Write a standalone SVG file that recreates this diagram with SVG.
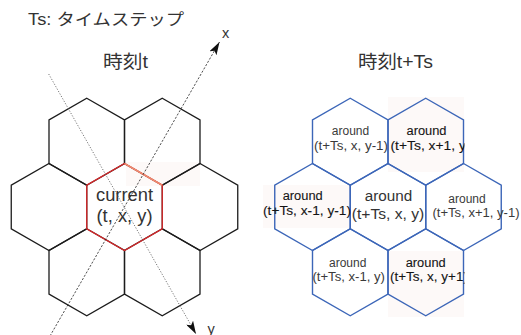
<svg xmlns="http://www.w3.org/2000/svg" width="521" height="335" viewBox="0 0 521 335">
<style>
  text { font-family: "Liberation Sans", "Noto Sans CJK JP", sans-serif; fill: #333; }
  .hex { fill: none; stroke-width: 1.3; stroke-linejoin: miter; }
  .blk { stroke: #1c1c1c; }
  .red { stroke: #d8282a; }
  .blu { stroke: #3c66b8; stroke-width: 1.4; }
  .lbl { font-size: 12px; text-anchor: middle; fill: #3a3a3a; }
  .hl { font-size: 12.5px; text-anchor: middle; fill: #151515; stroke: #151515; stroke-width: 0.1; }
  .faint { fill: #fdf9f8; }
</style>
<defs>
  <path id="h" d="M0,-43.5 L37.75,-21.75 L37.75,21.75 L0,43.5 L-37.75,21.75 L-37.75,-21.75 Z"/>
  <marker id="arr" viewBox="0 0 13 8" refX="13" refY="4" markerWidth="13" markerHeight="8" orient="auto" markerUnits="userSpaceOnUse">
    <path d="M0,0 L13,4 L0,8 L3,4 Z" fill="#111"/>
  </marker>
  <clipPath id="c1"><rect x="386" y="95" width="78.5" height="80"/></clipPath>
  <clipPath id="c2"><rect x="386" y="250" width="78.5" height="70"/></clipPath>
</defs>

<text x="28" y="25" font-size="16" textLength="156" lengthAdjust="spacingAndGlyphs">Ts: タイムステップ</text>
<text x="125.5" y="68" font-size="18" text-anchor="middle" textLength="45" lengthAdjust="spacingAndGlyphs">時刻t</text>
<text x="395.5" y="67.5" font-size="18" text-anchor="middle" textLength="75" lengthAdjust="spacingAndGlyphs">時刻t+Ts</text>

<!-- left grid at time t -->
<g id="t-grid">
  <rect class="faint" x="126" y="162" width="74" height="24"/>
  <g id="t-x-y-1"><use href="#h" class="hex blk" x="86.75" y="141.75"/></g>
  <g id="t-x1-y"><use href="#h" class="hex blk" x="162.25" y="141.75"/></g>
  <g id="t-x-1-y-1"><use href="#h" class="hex blk" x="49" y="207"/></g>
  <g id="t-x1-y-1"><use href="#h" class="hex blk" x="200" y="207"/></g>
  <g id="t-x-1-y"><use href="#h" class="hex blk" x="86.75" y="272.25"/></g>
  <g id="t-x-y1"><use href="#h" class="hex blk" x="162.25" y="272.25"/></g>
  <g id="current">
    <use href="#h" class="hex red" x="124.5" y="207"/>
    <line x1="124.5" y1="163.5" x2="162.25" y2="185.25" stroke="#f08a70" stroke-width="1.6"/>
    <text x="124.5" y="200.7" font-size="17.5" text-anchor="middle" textLength="57" lengthAdjust="spacingAndGlyphs">current</text>
    <text x="124.5" y="221.5" font-size="17.5" text-anchor="middle" textLength="56" lengthAdjust="spacingAndGlyphs">(t, x, y)</text>
  </g>
</g>

<!-- axes -->
<g id="connectors">
  <line x1="48.7" y1="74" x2="196" y2="334" stroke="#555" stroke-width="0.8" stroke-dasharray="1.2 1.6" marker-end="url(#arr)"/>
  <line x1="50" y1="336" x2="219.5" y2="42" stroke="#222" stroke-width="0.8" stroke-dasharray="2.2 1.6" marker-end="url(#arr)"/>
</g>
<text x="222" y="37.5" font-size="14.5">x</text>
<text x="207.5" y="333.5" font-size="14.5">y</text>

<!-- right grid at time t+Ts -->
<g id="tTs-grid">
  <rect class="faint" x="388" y="97" width="76" height="75"/>
  <rect class="faint" x="263" y="185" width="88" height="43"/>
  <rect class="faint" x="388" y="251" width="76" height="66"/>
  <g id="a-x-y-1">
    <use href="#h" class="hex blu" x="350.25" y="141.75"/>
    <text class="lbl" x="350.5" y="135">around</text>
    <text class="lbl" x="351" y="149.5" textLength="74" lengthAdjust="spacingAndGlyphs">(t+Ts, x, y-1)</text>
  </g>
  <g id="a-x1-y">
    <use href="#h" class="hex blu" x="425.75" y="141.75"/>
    <text class="hl" x="426.5" y="135" textLength="40" lengthAdjust="spacingAndGlyphs">around</text>
    <g clip-path="url(#c1)">
      <text class="hl" x="390.5" y="150" style="text-anchor:start" textLength="80" lengthAdjust="spacingAndGlyphs">(t+Ts, x+1, y)</text>
    </g>
  </g>
  <g id="a-x-1-y-1">
    <use href="#h" class="hex blu" x="312.5" y="207"/>
  </g>
  <g id="a-x-y">
    <use href="#h" class="hex blu" x="388" y="207"/>
    <text x="388.5" y="200.7" font-size="15.3" text-anchor="middle" textLength="47.5" lengthAdjust="spacingAndGlyphs">around</text>
    <text x="388" y="219.3" font-size="15.3" text-anchor="middle" textLength="72.5" lengthAdjust="spacingAndGlyphs">(t+Ts, x, y)</text>
  </g>
  <g id="a-x1-y-1">
    <use href="#h" class="hex blu" x="463.5" y="207"/>
    <text class="lbl" x="467" y="203.3">around</text>
    <text class="lbl" x="476" y="216.7" textLength="87" lengthAdjust="spacingAndGlyphs">(t+Ts, x+1, y-1)</text>
  </g>
  <g id="a-x-1-y">
    <use href="#h" class="hex blu" x="350.25" y="272.25"/>
    <text class="lbl" x="347.7" y="266.7">around</text>
    <text class="lbl" x="348.7" y="281" textLength="72.5" lengthAdjust="spacingAndGlyphs">(t+Ts, x-1, y)</text>
  </g>
  <g id="a-x-y1">
    <use href="#h" class="hex blu" x="425.75" y="272.25"/>
    <text class="hl" x="425.7" y="266.7" textLength="40" lengthAdjust="spacingAndGlyphs">around</text>
    <g clip-path="url(#c2)">
      <text class="hl" x="390" y="281" style="text-anchor:start" textLength="78" lengthAdjust="spacingAndGlyphs">(t+Ts, x, y+1)</text>
    </g>
  </g>
  <g id="a-x-1-y-1-label">
    <text class="hl" x="302.7" y="200" textLength="40" lengthAdjust="spacingAndGlyphs">around</text>
    <text class="hl" x="307" y="215" textLength="88" lengthAdjust="spacingAndGlyphs">(t+Ts, x-1, y-1)</text>
  </g>
</g>
</svg>
